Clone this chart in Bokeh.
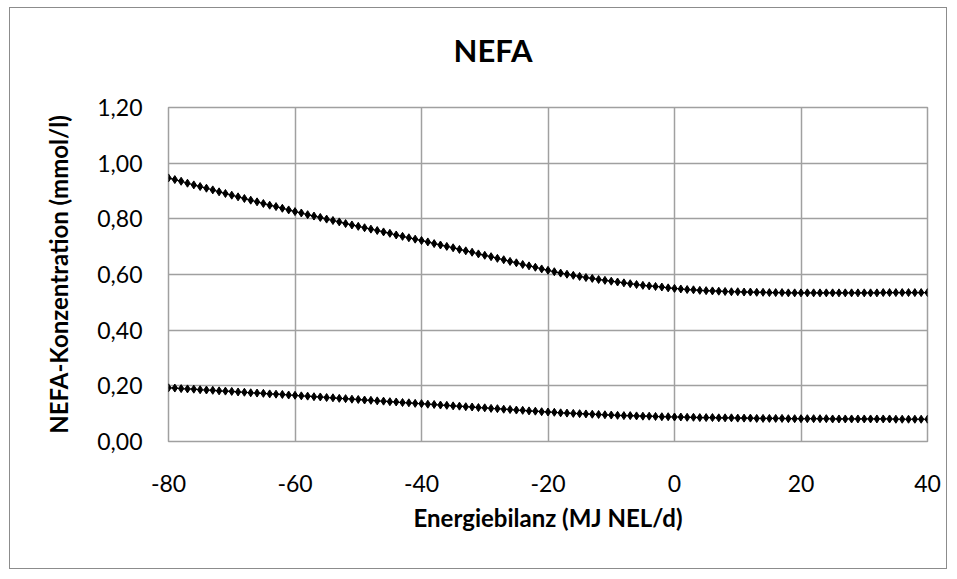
from bokeh.plotting import figure
from bokeh.models import Range1d, FixedTicker, ColumnDataSource
from bokeh.embed import file_html
from bokeh.resources import INLINE

title_text = "NEFA"
x_label = "Energiebilanz (MJ NEL/d)"
y_label = "NEFA-Konzentration (mmol/l)"

energy = list(range(-80, 41))

upper = [
    0.947, 0.941, 0.935, 0.928, 0.922, 0.916, 0.910, 0.904, 0.897, 0.891,
    0.885, 0.879, 0.873, 0.867, 0.861, 0.855, 0.849, 0.844, 0.838, 0.832,
    0.826, 0.821, 0.815, 0.810, 0.805, 0.799, 0.794, 0.789, 0.783, 0.778,
    0.773, 0.768, 0.763, 0.758, 0.753, 0.748, 0.742, 0.737, 0.732, 0.727,
    0.722, 0.717, 0.711, 0.706, 0.701, 0.696, 0.690, 0.685, 0.680, 0.674,
    0.669, 0.664, 0.658, 0.653, 0.647, 0.642, 0.636, 0.631, 0.626, 0.620,
    0.615, 0.610, 0.605, 0.601, 0.597, 0.593, 0.589, 0.586, 0.582, 0.579,
    0.576, 0.573, 0.570, 0.567, 0.564, 0.561, 0.559, 0.557, 0.555, 0.552,
    0.550, 0.548, 0.546, 0.545, 0.543, 0.542, 0.541, 0.540, 0.539, 0.538,
    0.538, 0.537, 0.537, 0.536, 0.536, 0.535, 0.535, 0.535, 0.534, 0.534,
    0.534, 0.534, 0.534, 0.534, 0.534, 0.534, 0.534, 0.534, 0.534, 0.534,
    0.534, 0.534, 0.534, 0.535, 0.535, 0.535, 0.535, 0.535, 0.535, 0.535,
    0.535,
]

lower = [
    0.193, 0.192, 0.190, 0.189, 0.188, 0.186, 0.185, 0.184, 0.182, 0.181,
    0.180, 0.178, 0.177, 0.175, 0.174, 0.173, 0.171, 0.170, 0.169, 0.167,
    0.166, 0.164, 0.163, 0.161, 0.160, 0.158, 0.157, 0.155, 0.154, 0.152,
    0.151, 0.149, 0.148, 0.146, 0.145, 0.143, 0.142, 0.140, 0.139, 0.137,
    0.136, 0.134, 0.133, 0.131, 0.130, 0.128, 0.127, 0.125, 0.124, 0.122,
    0.121, 0.119, 0.118, 0.116, 0.115, 0.113, 0.112, 0.110, 0.109, 0.107,
    0.106, 0.105, 0.103, 0.102, 0.101, 0.100, 0.099, 0.098, 0.097, 0.096,
    0.095, 0.094, 0.093, 0.093, 0.092, 0.091, 0.091, 0.090, 0.089, 0.089,
    0.088, 0.088, 0.087, 0.087, 0.086, 0.086, 0.086, 0.085, 0.085, 0.085,
    0.084, 0.084, 0.084, 0.083, 0.083, 0.083, 0.083, 0.083, 0.082, 0.082,
    0.082, 0.082, 0.082, 0.082, 0.082, 0.081, 0.081, 0.081, 0.081, 0.081,
    0.081, 0.081, 0.081, 0.081, 0.081, 0.080, 0.080, 0.080, 0.080, 0.080,
    0.080,
]

x_ticks = [-80, -60, -40, -20, 0, 20, 40]
x_tick_labels = ["-80", "-60", "-40", "-20", "0", "20", "40"]
y_ticks = [0, 0.2, 0.4, 0.6, 0.8, 1, 1.2]
y_tick_labels = ["0,00", "0,20", "0,40", "0,60", "0,80", "1,00", "1,20"]

FONT = "Lato"
GRID = "#a0a0a0"

src = ColumnDataSource(dict(x=energy, upper=upper, lower=lower))

p = figure(width=938, height=562, output_backend="svg", toolbar_location=None,
           x_range=Range1d(-80, 40), y_range=Range1d(0, 1.2),
           min_border_left=158, min_border_right=21,
           min_border_top=99, min_border_bottom=129)
p.margin = (7, 0, 0, 9)
p.styles = {"border": "1px solid #8c8c8c"}
p.background_fill_color = "white"
p.border_fill_color = "white"
p.outline_line_color = GRID
p.outline_line_width = 1.5

# trailing empty line lifts the title within its panel
p.title.text = title_text + "\n"
p.title.align = "left"
p.title.offset = 285
p.title.standoff = 2
p.title.text_font = FONT
p.title.text_font_size = "31px"
p.title.text_font_style = "bold"
p.title.text_color = "black"

p.xaxis.ticker = FixedTicker(ticks=x_ticks)
p.yaxis.ticker = FixedTicker(ticks=y_ticks)
p.xaxis.major_label_overrides = dict(zip(x_ticks, x_tick_labels))
p.yaxis.major_label_overrides = dict(zip(y_ticks, y_tick_labels))

for ax in (p.xaxis[0], p.yaxis[0]):
    ax.axis_line_color = None
    ax.major_tick_line_color = None
    ax.minor_tick_line_color = None
    ax.major_label_text_font = FONT
    ax.major_label_text_font_size = "23px"
    ax.major_label_text_color = "black"
    ax.axis_label_text_font = FONT
    ax.axis_label_text_font_size = "24px"
    ax.axis_label_text_font_style = "bold"
    ax.axis_label_text_color = "black"

p.xaxis.axis_label = x_label
p.yaxis.axis_label = y_label
p.xaxis.major_label_standoff = 27
p.xaxis.axis_label_standoff = 8
p.yaxis.major_label_standoff = 20
p.yaxis.axis_label_standoff = 21

p.xgrid.ticker = FixedTicker(ticks=x_ticks)
p.ygrid.ticker = FixedTicker(ticks=y_ticks)
for g in (p.xgrid[0], p.ygrid[0]):
    g.grid_line_color = GRID
    g.grid_line_width = 1.5

for col in ("upper", "lower"):
    p.line("x", col, source=src, line_color="black", line_width=1.2)
    p.scatter("x", col, source=src, marker="diamond", size=8,
              fill_color="black", line_color="black")

open("out.html", "w").write(file_html(p, INLINE))
